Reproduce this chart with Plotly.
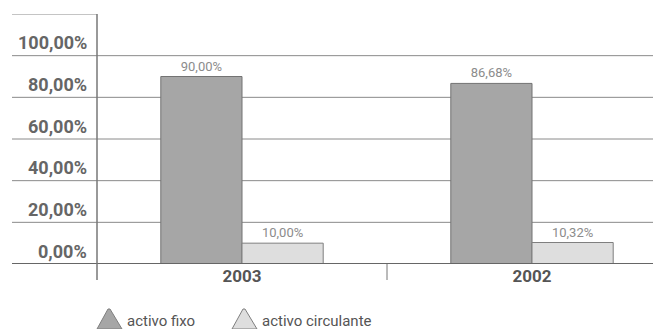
import plotly.graph_objects as go

# data
years = ["2003", "2002"]
activo_fixo = [90.00, 86.68]
activo_circulante = [10.00, 10.32]
y_ticks = [0, 20, 40, 60, 80, 100]

W, H = 661, 329
OFF = 8  # page body margin: the figure starts 8px in
L, T = 97 - OFF, 14 - OFF
pw, ph = 564, 250
R = W - L - pw
B = H - T - ph


def px(x):
    # page pixel x -> paper x
    return (x - OFF - L) / pw


def py(y):
    # page pixel y -> paper y
    return (T + ph - (y - OFF)) / ph


def fmt(v):
    return f"{v:.2f}".replace(".", ",") + "%"


fig = go.Figure()
fig.add_bar(x=years, y=activo_fixo, name="activo fixo",
            marker=dict(color="#a6a6a6", line=dict(color="#737373", width=1)),
            text=[fmt(v) for v in activo_fixo], textposition="outside",
            textfont=dict(family="Roboto", size=13, color="#8c8c8c"),
            cliponaxis=False, showlegend=False)
fig.add_bar(x=years, y=activo_circulante, name="activo circulante",
            marker=dict(color="#dedede", line=dict(color="#7f7f7f", width=1)),
            text=[fmt(v) for v in activo_circulante], textposition="outside",
            textfont=dict(family="Roboto", size=13, color="#8c8c8c"),
            cliponaxis=False, showlegend=False)

shapes = []
# gridlines running under the label column too
for v in y_ticks[1:]:
    shapes.append(dict(type="line", xref="paper", yref="y", x0=px(12), x1=px(670),
                       y0=v, y1=v, line=dict(color="#8a8a8a", width=1), layer="below"))
shapes.append(dict(type="line", xref="paper", yref="y", x0=px(12), x1=0,
                   y0=120, y1=120, line=dict(color="#8a8a8a", width=1)))
# zero line
shapes.append(dict(type="line", xref="paper", yref="y", x0=px(12), x1=px(670),
                   y0=0, y1=0, line=dict(color="#666666", width=2)))
# vertical axis line and category separator
shapes.append(dict(type="line", xref="paper", yref="paper", x0=0, x1=0,
                   y0=py(280), y1=1, line=dict(color="#777777", width=1.5)))
shapes.append(dict(type="line", xref="x", yref="paper", x0=0.5, x1=0.5,
                   y0=py(280), y1=0, line=dict(color="#777777", width=1)))

annotations = []
for v in y_ticks:
    annotations.append(dict(xref="paper", yref="y", x=px(89), y=v, text=fmt(v),
                            xanchor="right", yanchor="middle", yshift=13, showarrow=False,
                            font=dict(family="Roboto", size=18, color="#666666", weight="bold")))

# legend drawn by hand (rounded triangles)
legend_items = [("activo fixo", "#a6a6a6", 97), ("activo circulante", "#dedede", 232)]
for name, col, x0 in legend_items:
    path = (f"M {px(x0)} {py(329)} L {px(x0 + 11)} {py(309)} "
            f"L {px(x0 + 13)} {py(309)} L {px(x0 + 25)} {py(329)} Z")
    shapes.append(dict(type="path", xref="paper", yref="paper", path=path,
                       fillcolor=col, line=dict(color="#7f7f7f", width=1)))
    annotations.append(dict(xref="paper", yref="paper", x=px(x0 + 28), y=py(321), text=name,
                            xanchor="left", yanchor="middle", showarrow=False,
                            font=dict(family="Roboto", size=15, color="#555555")))

fig.update_layout(
    width=W, height=H,
    margin=dict(l=L, r=R, t=T, b=B),
    paper_bgcolor="white", plot_bgcolor="white",
    barmode="group", bargap=0.44, bargroupgap=0,
    showlegend=False,
    xaxis=dict(range=[-0.5, -0.5 + pw / 290], showgrid=False, zeroline=False,
               showline=False, ticks="",
               tickfont=dict(family="Roboto", size=17, color="#555555", weight="bold")),
    yaxis=dict(range=[0, 120], showgrid=False, zeroline=False, showline=False,
               showticklabels=False, ticks=""),
    shapes=shapes, annotations=annotations,
)

fig.write_html("out.html")
